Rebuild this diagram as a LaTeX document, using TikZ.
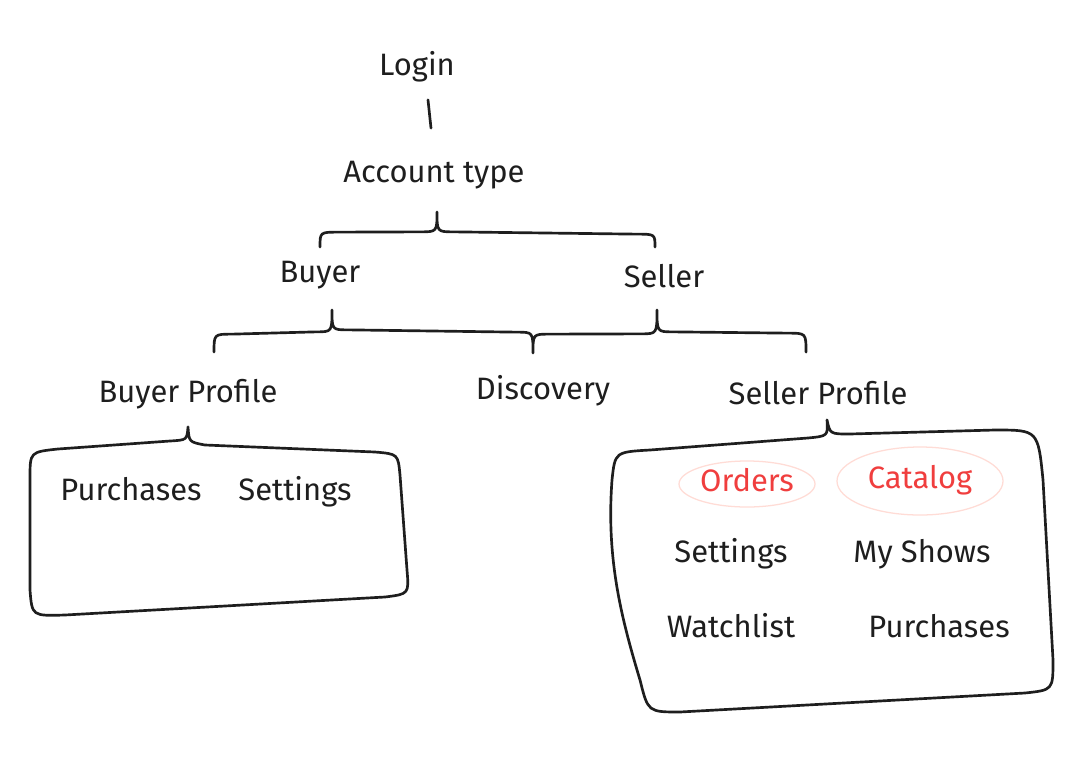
\documentclass[tikz,border=0pt]{standalone}
\usepackage{fontspec}
\setmainfont{Fira Sans}
\usetikzlibrary{shapes.geometric, positioning, calc}
\definecolor{inktext}{HTML}{1E1E1E}
\definecolor{sketchred}{HTML}{F03E3E}
\definecolor{ringred}{HTML}{FFDCD6}

\begin{document}
\begin{tikzpicture}[
    x=0.25mm, y=-0.25mm,
    label/.style={inner sep=2pt, text height=16pt, text depth=5pt,
                  font=\fontsize{22}{26}\selectfont, text=inktext},
    tag/.style={label, ellipse, inner sep=0pt, draw=ringred, line width=0.9pt,
                text=sketchred},
    sketch/.style={draw=inktext, line width=1.9pt, line cap=round, line join=round}
]

\fill[white] (0,0) rectangle (1090,782);
\useasboundingbox (0,0) rectangle (1090,782);

\node[label] (login) at (417,68) {Login};
\node[label] (acct) at (434,175) {Account type};
\node[label] (buyer) at (320,275) {Buyer};
\node[label] (seller) at (664,280) {Seller};
\node[label] (bprof) at (188,395) {Buyer Profile};
\node[label] (disc) at (543,392) {Discovery};
\node[label] (sprof) at (818,397) {Seller Profile};

% buyer profile box
\node[label] (bpurch) at (131,493) {Purchases};
\node[label, on grid, right=41mm of bpurch] (bset) {Settings};

% seller profile box
\node[tag, minimum width=34mm, minimum height=11.5mm] (orders) at (747,484) {Orders};
\node[tag, minimum width=41.5mm, minimum height=17mm] (catalog) at (920,481) {Catalog};
\node[label] (sset) at (731,555) {Settings};
\node[label, on grid, right=47.75mm of sset] (shows) {My Shows};
\node[label, on grid, below=18.75mm of sset] (watch) {Watchlist};
\node[label, on grid, right=52mm of watch] (spurch) {Purchases};

\draw[sketch] ($(login.south)+(11,14)$) -- ($(acct.north)+(-3,-29)$);

% account type brace
\coordinate (acctTip) at ($(acct.south)+(3,19)$);
\draw[sketch] ($(buyer.north)+(0,-10)$) .. controls ($(buyer.north)+(0,-25)$) .. ($(buyer.north)+(18,-25)$)
    -- ($(acctTip)+(-17,20)$) .. controls ($(acctTip)+(0,20)$) .. (acctTip)
    .. controls ($(acctTip)+(0,20)$) .. ($(acctTip)+(17,20)$)
    -- ($(seller.north)+(-27,-28)$) .. controls ($(seller.north)+(-9,-28)$) .. ($(seller.north)+(-9,-15)$);

% buyer / seller brace
\coordinate (buyTip) at ($(buyer.south)+(12,17)$);
\coordinate (sellTip) at ($(seller.south)+(-7,12)$);
\coordinate (discTip) at ($(disc.north)+(-10,-21)$);
\coordinate (lEnd) at ($(bprof.north)+(26,-25)$);
\coordinate (rEnd) at ($(sprof.north)+(-12,-27)$);
\draw[sketch] (lEnd) .. controls ($(lEnd)+(0,-18)$) .. ($(lEnd)+(18,-18)$)
    -- ($(buyTip)+(-16,22)$) .. controls ($(buyTip)+(0,22)$) .. (buyTip)
    .. controls ($(buyTip)+(0,20)$) .. ($(buyTip)+(16,20)$)
    -- ($(discTip)+(-16,-21)$) .. controls ($(discTip)+(0,-21)$) .. (discTip)
    .. controls ($(discTip)+(0,-19)$) .. ($(discTip)+(16,-19)$)
    -- ($(sellTip)+(-16,24)$) .. controls ($(sellTip)+(0,24)$) .. (sellTip)
    .. controls ($(sellTip)+(0,22)$) .. ($(sellTip)+(16,22)$)
    -- ($(rEnd)+(-18,-19)$) .. controls ($(rEnd)+(0,-19)$) .. (rEnd);

% profile boxes
\coordinate (bTip) at ($(bprof.south)+(0,14)$);
\draw[sketch] (bTip) .. controls (189,442) .. (205,445) -- (375,452)
    .. controls (398,454) .. (400,475) -- (407,570) .. controls (409,594) .. (385,597)
    -- (65,615) .. controls (32,616) .. (30,590) -- (30,478)
    .. controls (30,452) .. (58,449) -- (170,441) .. controls (187,440) .. (bTip);

\coordinate (sTip) at ($(sprof.south)+(9,5)$);
\draw[sketch] (sTip) .. controls (828,436) .. (808,438) -- (650,450)
    .. controls (615,452) .. (612,480) .. controls (606,560) and (622,620) .. (640,680)
    .. controls (648,712) .. (680,712) -- (1025,693) .. controls (1053,690) .. (1053,660)
    -- (1043,480) .. controls (1038,430) .. (995,430) -- (850,434)
    .. controls (830,434) .. (sTip);

\end{tikzpicture}
\end{document}
